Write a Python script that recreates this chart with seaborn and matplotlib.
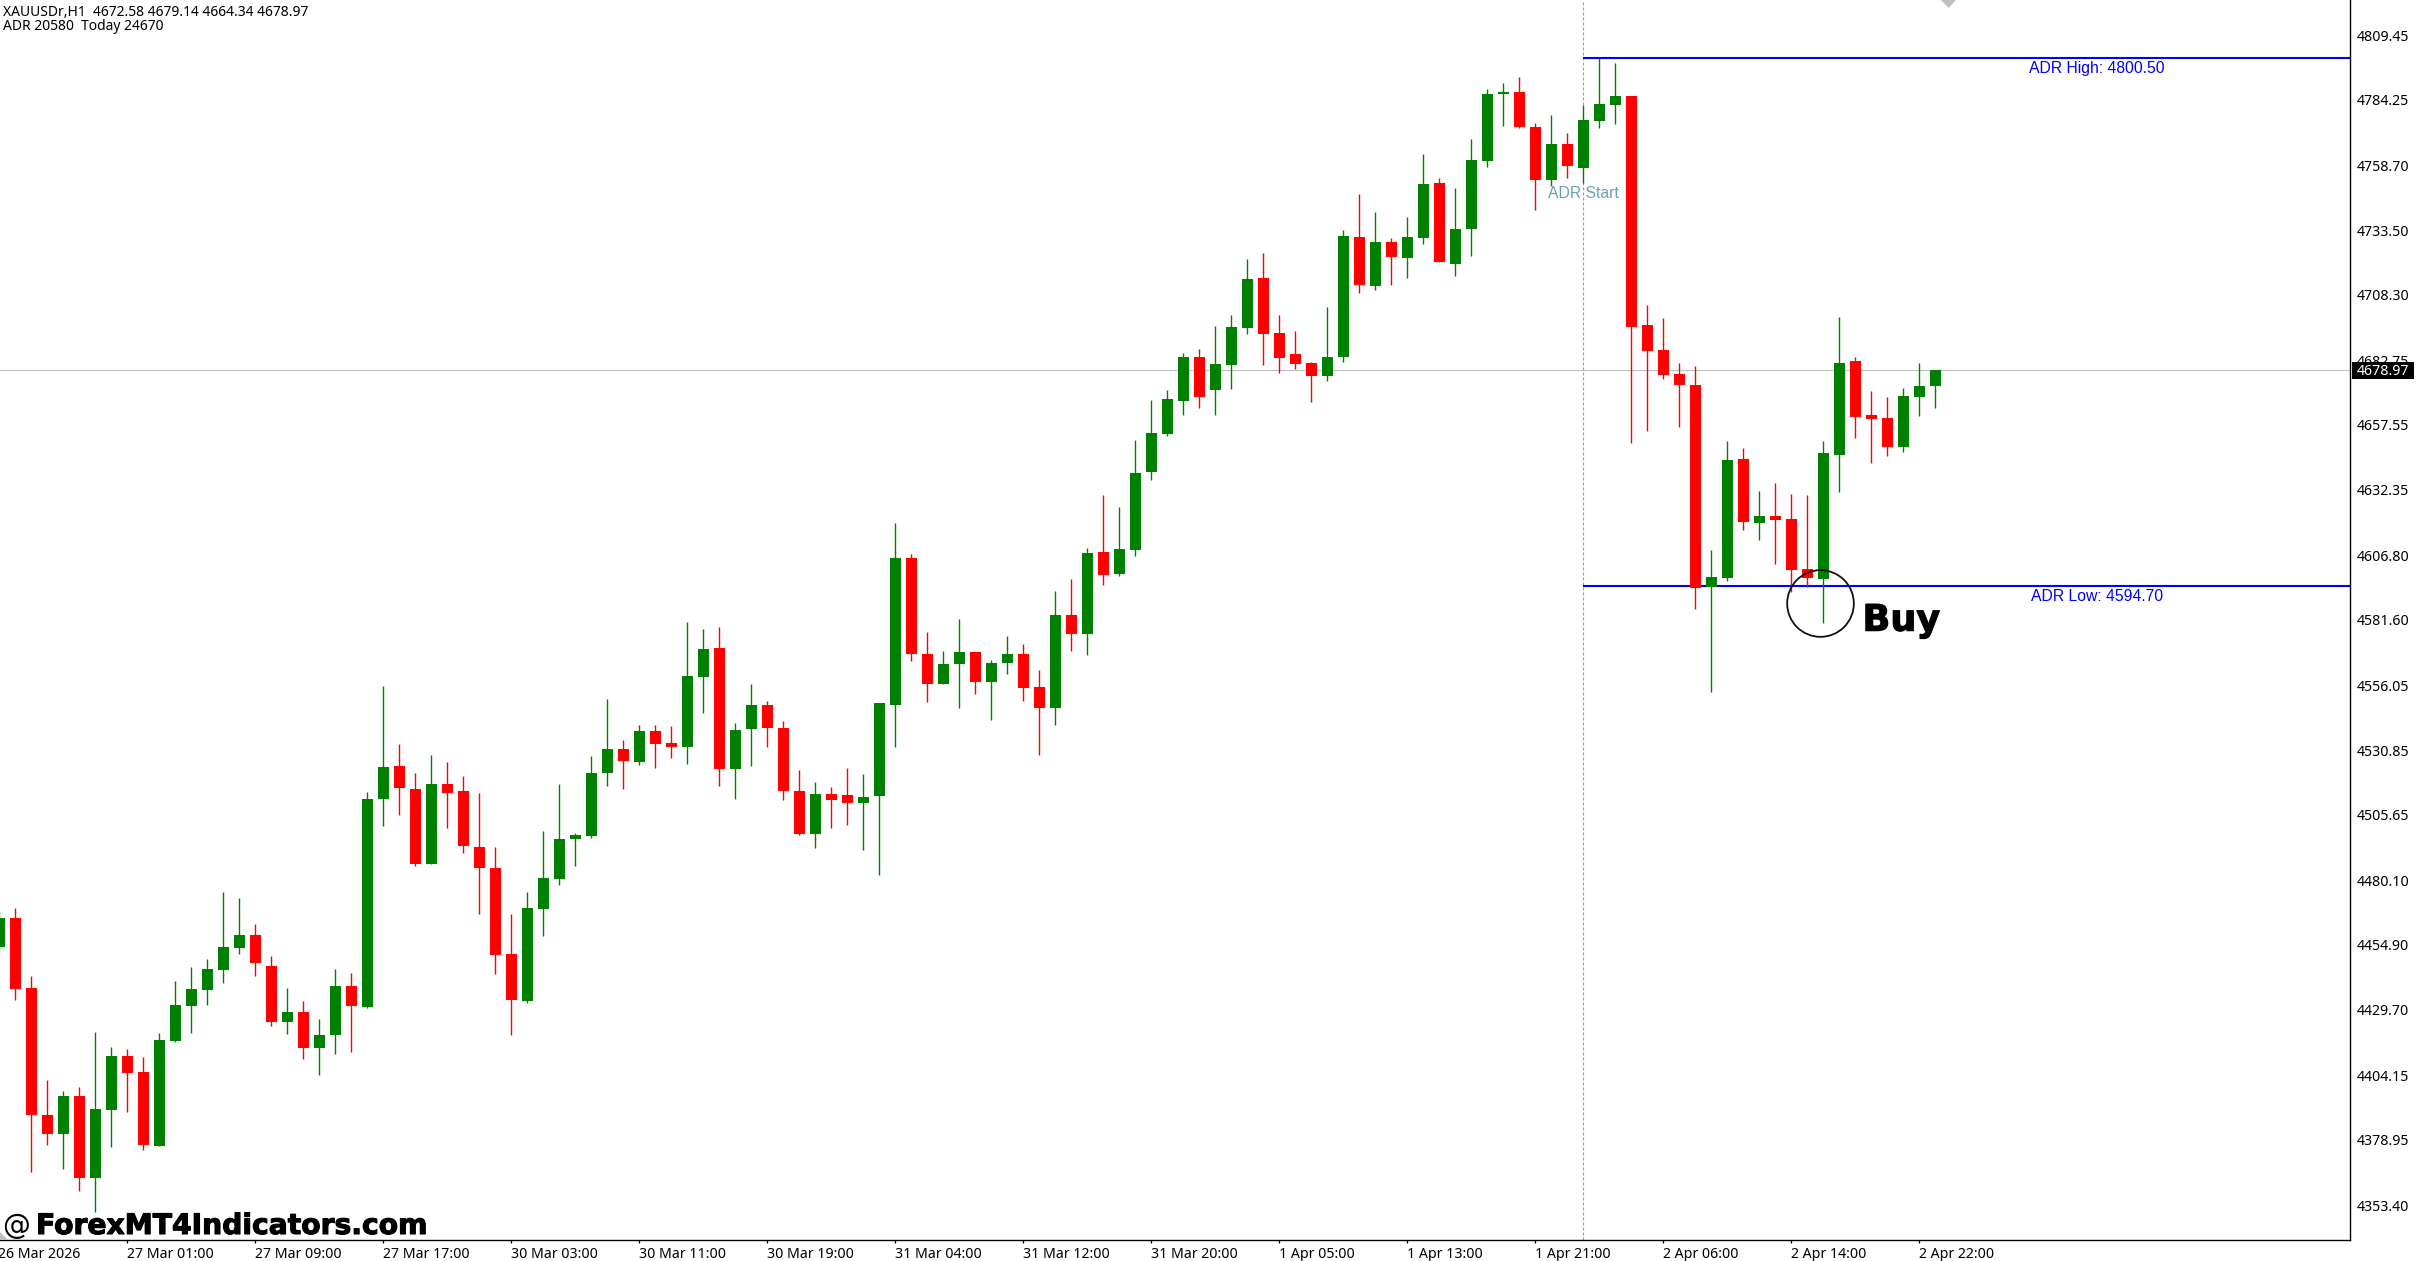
import numpy as np
import pandas as pd
import matplotlib
matplotlib.use("Agg")
import matplotlib.pyplot as plt
import matplotlib.patheffects as pe
from matplotlib.patches import Polygon, Rectangle
from matplotlib.transforms import Affine2D
import seaborn as sns

# XAUUSDr H1 candles
opens = [
    4454.1, 4465.4, 4438.2, 4388.5, 4381.0, 4395.9, 4364.2, 4390.7, 4411.5, 4405.3,
    4376.7, 4417.5, 4431.1, 4437.5, 4445.1, 4453.8, 4458.7, 4446.7, 4424.7, 4428.8,
    4414.8, 4419.6, 4438.8, 4430.8, 4511.6, 4524.6, 4515.7, 4486.6, 4517.7, 4514.9,
    4493.0, 4484.8, 4451.3, 4433.2, 4469.0, 4480.7, 4496.0, 4497.5, 4521.8, 4531.3,
    4526.2, 4538.3, 4533.6, 4532.1, 4559.2, 4570.7, 4523.3, 4539.0, 4548.4, 4539.4,
    4515.0, 4498.3, 4513.8, 4513.4, 4510.1, 4512.8, 4548.6, 4605.6, 4568.4, 4556.7,
    4564.3, 4569.1, 4557.5, 4564.7, 4568.4, 4555.3, 4547.4, 4583.5, 4575.9, 4608.0,
    4599.6, 4608.9, 4639.4, 4654.2, 4667.0, 4684.1, 4671.3, 4680.9, 4695.5, 4714.9,
    4693.4, 4685.2, 4681.7, 4676.8, 4684.2, 4730.8, 4711.9, 4728.9, 4722.8, 4730.6,
    4751.9, 4720.4, 4734.1, 4760.6, 4786.7, 4787.4, 4773.7, 4753.2, 4767.1, 4757.9,
    4776.2, 4782.4, 4785.8, 4696.5, 4686.8, 4677.4, 4673.1, 4594.5, 4598.0, 4644.3,
    4619.5, 4622.1, 4620.9, 4601.4, 4597.7, 4646.0, 4682.5, 4661.5, 4660.3, 4649.1,
    4668.6, 4672.58,
]
highs = [
    4467.7, 4469.2, 4442.8, 4402.2, 4397.9, 4399.5, 4420.9, 4415.2, 4414.3, 4411.2,
    4420.6, 4440.8, 4446.2, 4449.3, 4475.5, 4473.2, 4463.0, 4450.7, 4438.2, 4433.1,
    4426.0, 4445.6, 4443.9, 4514.6, 4555.8, 4533.1, 4522.0, 4528.9, 4526.2, 4520.7,
    4514.1, 4493.0, 4466.9, 4475.5, 4499.3, 4517.7, 4498.5, 4528.5, 4550.7, 4534.8,
    4540.6, 4540.6, 4540.2, 4580.8, 4578.1, 4578.8, 4541.4, 4556.5, 4549.9, 4542.1,
    4523.1, 4518.5, 4516.5, 4523.9, 4521.6, 4549.1, 4619.4, 4607.2, 4576.9, 4569.5,
    4581.9, 4569.1, 4566.0, 4575.3, 4572.2, 4562.1, 4592.8, 4597.5, 4609.5, 4630.3,
    4625.6, 4651.7, 4667.3, 4671.2, 4685.6, 4687.2, 4696.1, 4700.4, 4722.3, 4724.6,
    4700.4, 4694.2, 4682.1, 4703.5, 4733.6, 4747.6, 4740.6, 4730.4, 4738.6, 4763.2,
    4753.8, 4749.9, 4769.0, 4788.5, 4790.9, 4793.2, 4775.3, 4778.4, 4771.4, 4782.4,
    4800.6, 4798.7, 4785.8, 4704.3, 4699.3, 4681.7, 4680.6, 4608.8, 4651.3, 4648.6,
    4631.8, 4634.9, 4630.7, 4630.3, 4651.3, 4699.7, 4684.1, 4670.8, 4668.5, 4672.0,
    4681.7, 4679.14,
]
lows = [
    4452.9, 4433.6, 4366.3, 4376.9, 4367.7, 4359.1, 4350.9, 4376.2, 4389.7, 4375.1,
    4376.7, 4417.1, 4420.7, 4431.3, 4440.1, 4451.5, 4442.6, 4423.4, 4420.2, 4410.6,
    4404.0, 4412.5, 4413.3, 4430.3, 4501.4, 4505.4, 4485.8, 4486.6, 4500.6, 4490.9,
    4467.1, 4443.7, 4419.6, 4432.4, 4458.5, 4478.4, 4485.8, 4496.7, 4516.7, 4515.5,
    4524.9, 4523.7, 4527.6, 4525.3, 4545.1, 4516.7, 4511.7, 4524.5, 4531.9, 4511.3,
    4497.9, 4492.8, 4500.6, 4501.8, 4491.7, 4482.3, 4531.9, 4565.4, 4549.7, 4556.7,
    4547.4, 4552.8, 4542.7, 4560.4, 4550.1, 4529.1, 4540.8, 4569.3, 4567.8, 4595.0,
    4598.8, 4606.6, 4636.2, 4653.4, 4661.6, 4664.3, 4661.5, 4671.7, 4693.2, 4680.9,
    4678.0, 4679.5, 4666.6, 4674.8, 4682.2, 4709.1, 4710.3, 4712.3, 4715.0, 4728.2,
    4721.2, 4715.8, 4723.6, 4758.2, 4774.2, 4773.4, 4741.5, 4750.8, 4754.0, 4751.8,
    4773.4, 4775.0, 4650.7, 4655.3, 4675.6, 4656.9, 4586.0, 4553.6, 4596.7, 4616.8,
    4612.9, 4603.5, 4592.6, 4594.5, 4580.5, 4631.6, 4652.6, 4642.9, 4645.6, 4647.2,
    4661.2, 4664.34,
]
closes = [
    4465.4, 4437.8, 4388.4, 4381.0, 4395.9, 4363.9, 4391.0, 4411.5, 4405.1, 4377.0,
    4417.8, 4431.4, 4437.7, 4445.6, 4454.1, 4458.7, 4447.7, 4424.7, 4428.8, 4414.8,
    4419.8, 4438.8, 4430.9, 4511.8, 4524.3, 4515.9, 4486.6, 4517.7, 4514.2, 4493.5,
    4484.7, 4451.1, 4433.6, 4469.2, 4481.1, 4496.2, 4497.8, 4522.0, 4531.3, 4526.6,
    4538.3, 4533.4, 4532.1, 4559.6, 4570.3, 4523.3, 4538.7, 4548.4, 4539.6, 4514.8,
    4498.3, 4513.8, 4511.3, 4510.1, 4512.6, 4549.1, 4605.6, 4568.2, 4556.7, 4564.5,
    4569.1, 4557.5, 4564.9, 4568.4, 4555.2, 4547.4, 4583.5, 4575.9, 4607.6, 4599.2,
    4609.1, 4638.8, 4654.4, 4667.7, 4684.1, 4668.6, 4681.3, 4695.8, 4714.5, 4693.2,
    4683.8, 4681.5, 4676.8, 4684.1, 4731.2, 4712.3, 4728.9, 4723.2, 4730.8, 4751.5,
    4721.2, 4734.0, 4760.8, 4786.6, 4787.4, 4773.8, 4753.2, 4767.1, 4758.6, 4776.4,
    4782.7, 4785.8, 4695.9, 4686.5, 4677.2, 4673.3, 4594.1, 4598.3, 4643.9, 4619.9,
    4622.1, 4620.5, 4601.2, 4598.0, 4646.6, 4681.7, 4660.8, 4660.0, 4649.1, 4668.9,
    4672.8, 4678.97,
]

price_ticks = [4809.45, 4784.25, 4758.70, 4733.50, 4708.30, 4682.75, 4657.55, 4632.35, 4606.80,
               4581.60, 4556.05, 4530.85, 4505.65, 4480.10, 4454.90, 4429.70, 4404.15, 4378.95, 4353.40]
time_tick_bars = [8, 16, 24, 32, 40, 48, 56, 64, 72, 80, 88, 96, 104, 112, 120]
time_labels = ["27 Mar 01:00", "27 Mar 09:00", "27 Mar 17:00", "30 Mar 03:00", "30 Mar 11:00",
               "30 Mar 19:00", "31 Mar 04:00", "31 Mar 12:00", "31 Mar 20:00", "1 Apr 05:00",
               "1 Apr 13:00", "1 Apr 21:00", "2 Apr 06:00", "2 Apr 14:00", "2 Apr 22:00"]
adr_high = 4800.50
adr_low = 4594.70
adr_start_bar = 99
buy_bar = 113.8
buy_price = 4588.3

W, H = 2416, 1261
UP = "#008000"
DOWN = "#FF0000"
LABEL_FONT = "Noto Sans"
AXES_RIGHT = 2350.0
AXES_BOTTOM = 1240.0

sns.set_theme(style="white")
plt.rcParams["font.family"] = [LABEL_FONT, "DejaVu Sans"]

df = pd.DataFrame({"bar": np.arange(len(opens)), "open": opens, "high": highs, "low": lows, "close": closes})
df["side"] = np.where(df["close"] >= df["open"], "up", "down")
df["body"] = (df["close"] - df["open"]).abs()
df["bottom"] = df[["open", "close"]].min(axis=1)

fig = plt.figure(figsize=(W / 100, H / 100), dpi=100, facecolor="white")
ax = fig.add_axes([0, 1 - AXES_BOTTOM / H, AXES_RIGHT / W, AXES_BOTTOM / H])

# helper so the screen furniture can be placed in image pixels (y down)
px = Affine2D().scale(1 / W, -1 / H).translate(0, 1) + fig.transFigure

# reference lines sit behind the candles
ax.axhline(closes[-1], color="#C0C0C0", lw=0.8, zorder=0.5)
ax.axvline(adr_start_bar, color="#A0A0A0", lw=0.8, dashes=(2.7, 1.8), zorder=0.5)
ax.hlines([adr_high, adr_low], adr_start_bar, 147, color="#0000FF", lw=1.5, zorder=0.6)

# wicks
wicks = df.melt(id_vars=["bar", "side"], value_vars=["low", "high"], value_name="price")
sns.lineplot(data=wicks, x="bar", y="price", hue="side", units="bar", estimator=None,
             palette={"up": UP, "down": DOWN}, lw=1.0, legend=False, ax=ax, zorder=2,
             solid_capstyle="butt")

# bodies
for side, colour in [("up", UP), ("down", DOWN)]:
    part = df[df["side"] == side]
    sns.barplot(data=part, x="bar", y="body", bottom=part["bottom"].values, native_scale=True,
                color=colour, saturation=1, width=0.69, errorbar=None, linewidth=0, ax=ax, zorder=3)

ax.set_xlim(0.7 / 16, (AXES_RIGHT + 0.7) / 16)
ax.set_ylim(4823.21 - AXES_BOTTOM * 0.38979, 4823.21)
ax.set_xlabel("")
ax.set_ylabel("")
ax.grid(False)

ax.yaxis.tick_right()
ax.set_yticks(price_ticks)
ax.set_yticklabels([f"{p:.2f}" for p in price_ticks])
ax.set_xticks(time_tick_bars)
ax.set_xticklabels(time_labels, ha="left")
ax.tick_params(axis="both", length=2.4, width=0.9, color="black", labelcolor="black", labelsize=10.2,
               bottom=True, right=True, left=False, pad=2.6)
sns.despine(ax=ax, left=True, right=False, top=True)
for side in ["right", "bottom"]:
    ax.spines[side].set_color("black")
    ax.spines[side].set_linewidth(1.0)

# first date label hangs off the left edge
fig.text(-2, 1258, "26 Mar 2026", transform=px, fontsize=10.2, color="black", va="baseline")

# top left info lines
fig.text(3, 15.6, "XAUUSDr,H1  4672.58 4679.14 4664.34 4678.97", transform=px, fontsize=10,
         color="black", va="baseline")
fig.text(3, 29.5, "ADR 20580  Today 24670", transform=px, fontsize=10, color="black", va="baseline")

# ADR labels
fig.text(1583.6, 198, "ADR Start", transform=px, fontsize=11.3, family="Liberation Sans",
         color="#66A3B3", ha="center", va="baseline")
fig.text(2096.8, 72.7, f"ADR High: {adr_high:.2f}", transform=px, fontsize=11.3, family="Liberation Sans",
         color="#0000FF", ha="center", va="baseline")
fig.text(2097, 601, f"ADR Low: {adr_low:.2f}", transform=px, fontsize=11.3, family="Liberation Sans",
         color="#0000FF", ha="center", va="baseline")

# current price tag
fig.add_artist(Rectangle((2352.3, 362), 61.7, 16.7, transform=px, facecolor="black", edgecolor="none", zorder=5))
fig.text(2357, 375, f"{closes[-1]:.2f}", transform=px, fontsize=10.2, color="white", va="baseline", zorder=6)

# chart shift markers
fig.add_artist(Polygon([(1941, 0), (1956, 0), (1948.7, 8)], transform=px, facecolor="#C0C0C0", edgecolor="none"))
fig.add_artist(Polygon([(0, 1232), (0, 1240), (8, 1240)], transform=px, facecolor="#C0C0C0", edgecolor="none"))

# annotation added on top of the screenshot, drawn a little heavier than plain bold
heavy = [pe.withStroke(linewidth=0.8, foreground="black")]
ax.plot([buy_bar], [buy_price], marker="o", ms=48, mfc="none", mec="#111111", mew=1.3, zorder=6, clip_on=False)
fig.text(1862.5, 630.7, "Buy", transform=px, fontsize=26.3, fontweight="bold", family="DejaVu Sans",
         color="black", va="baseline", zorder=6, path_effects=heavy)
fig.text(2, 1234, "@", transform=px, fontsize=20, family="DejaVu Sans", color="black", va="baseline", zorder=6)
fig.text(36, 1234, "ForexMT4Indicators.com", transform=px, fontsize=20.3, fontweight="bold",
         family="DejaVu Sans", color="black", va="baseline", zorder=6, path_effects=heavy)

fig.savefig("out.png", dpi=100, facecolor="white")
plt.close(fig)
